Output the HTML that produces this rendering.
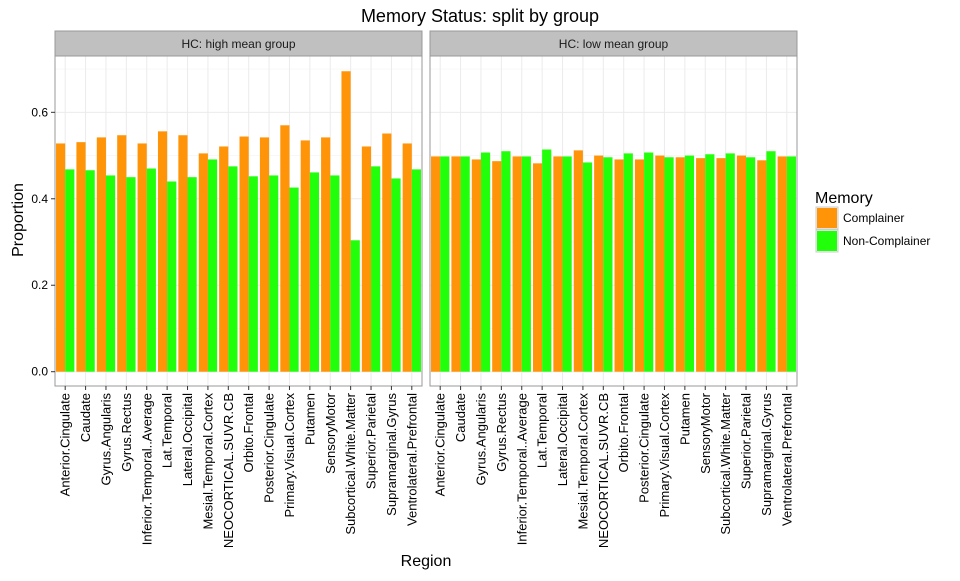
<!DOCTYPE html>
<html><head><meta charset="utf-8"><style>
body{margin:0;background:#fff;font-family:"Liberation Sans",sans-serif}
</style></head><body>
<svg id="c" width="960" height="576" xmlns="http://www.w3.org/2000/svg" font-family="Liberation Sans, sans-serif"></svg>
<script>
const categories=["Anterior.Cingulate","Caudate","Gyrus.Angularis","Gyrus.Rectus","Inferior.Temporal..Average","Lat.Temporal","Lateral.Occipital","Mesial.Temporal.Cortex","NEOCORTICAL.SUVR.CB","Orbito.Frontal","Posterior.Cingulate","Primary.Visual.Cortex","Putamen","SensoryMotor","Subcortical.White.Matter","Superior.Parietal","Supramarginal.Gyrus","Ventrolateral.Prefrontal"];
const panels=["HC: high mean group","HC: low mean group"];
const highComplainer=[0.528,0.531,0.542,0.547,0.528,0.556,0.547,0.505,0.521,0.544,0.542,0.570,0.535,0.542,0.695,0.521,0.551,0.528];
const highNon=[0.468,0.466,0.454,0.450,0.470,0.440,0.450,0.491,0.475,0.452,0.454,0.426,0.461,0.454,0.304,0.475,0.447,0.468];
const lowComplainer=[0.498,0.498,0.491,0.487,0.498,0.482,0.498,0.512,0.500,0.491,0.491,0.500,0.496,0.494,0.494,0.500,0.489,0.498];
const lowNon=[0.498,0.498,0.507,0.510,0.498,0.514,0.498,0.484,0.496,0.505,0.507,0.496,0.500,0.503,0.505,0.496,0.510,0.498];
const yTicks=[0,0.2,0.4,0.6];
const seriesNames=["Complainer","Non-Complainer"];
const colors=["#FF9408","#22FF0A"];
const svg=document.getElementById('c');const NS="http://www.w3.org/2000/svg";
function el(t,a,p){const e=document.createElementNS(NS,t);for(const k in a)e.setAttribute(k,a[k]);(p||svg).appendChild(e);return e;}
const yTop=56,yBot=386;
function y(v){return 371.7-v*432.3;}
const pX=[55,430],pW=367;
el('text',{x:480,y:22,'font-size':18,'text-anchor':'middle',fill:'#000',}).textContent="Memory Status: split by group";
const data=[[highComplainer,highNon],[lowComplainer,lowNon]];
panels.forEach((pn,pi)=>{
 const x0=pX[pi];const g=el('g',{});
 el('rect',{x:x0,y:31,width:pW,height:25,fill:'#C0C0C0',stroke:'#999','stroke-width':1,},g);
 el('text',{x:x0+pW/2,y:48,'font-size':12,'text-anchor':'middle',fill:'#1a1a1a',},g).textContent=pn;
 el('rect',{x:x0,y:yTop,width:pW,height:yBot-yTop,fill:'#fff',},g);
 const step=pW/categories.length;
 function cx(i){return x0+step*(i+0.5);}
 [0.1,0.3,0.5,0.7].forEach(v=>el('line',{x1:x0,x2:x0+pW,y1:y(v),y2:y(v),stroke:'#F4F4F4','stroke-width':0.6},g));
 yTicks.forEach(v=>el('line',{x1:x0,x2:x0+pW,y1:y(v),y2:y(v),stroke:'#EBEBEB','stroke-width':1},g));
 categories.forEach((c,i)=>el('line',{x1:cx(i),x2:cx(i),y1:yTop,y2:yBot,stroke:'#EBEBEB','stroke-width':1},g));
 const bw=step*0.9/2;
 data[pi].forEach((s,si)=>s.forEach((v,i)=>{
  const r=el('rect',{x:cx(i)-bw+si*bw,y:y(v),width:bw,height:y(0)-y(v),fill:colors[si]},g);
  
  
 }));
 el('rect',{x:x0,y:yTop,width:pW,height:yBot-yTop,fill:'none',stroke:'#999','stroke-width':1},g);
 categories.forEach((c,i)=>{
  el('line',{x1:cx(i),x2:cx(i),y1:yBot,y2:yBot+4,stroke:'#333'},g);
  const t=el('text',{transform:`translate(${cx(i)+4.5},${yBot+7}) rotate(-90)`,'font-size':13,'text-anchor':'end',fill:'#000'},g);
  
  
  t.textContent=c;
 });
 if(pi===0){yTicks.forEach(v=>{
  el('line',{x1:x0-4,x2:x0,y1:y(v),y2:y(v),stroke:'#333'},g);
  const t=el('text',{x:x0-7,y:y(v)+4,'font-size':12,'text-anchor':'end',fill:'#000'},g);
  
  
  t.textContent=v.toFixed(1);
 });}
});
el('text',{x:426,y:566,'font-size':16,'text-anchor':'middle',}).textContent="Region";
el('text',{transform:'translate(23,220) rotate(-90)','font-size':16,'text-anchor':'middle',}).textContent="Proportion";
const lg=el('g',{});
el('text',{x:815,y:203,'font-size':16,},lg).textContent="Memory";
seriesNames.forEach((n,i)=>{
 const e=el('g',{},lg);
 
 
 el('rect',{x:816,y:207+i*23,width:22,height:22,fill:'#F2F2F2',stroke:'#ccc'},e);
 el('rect',{x:817,y:208+i*23,width:20,height:20,fill:colors[i]},e);
 el('text',{x:843,y:222+i*23,'font-size':12},e).textContent=n;
});
</script>
</body></html>
